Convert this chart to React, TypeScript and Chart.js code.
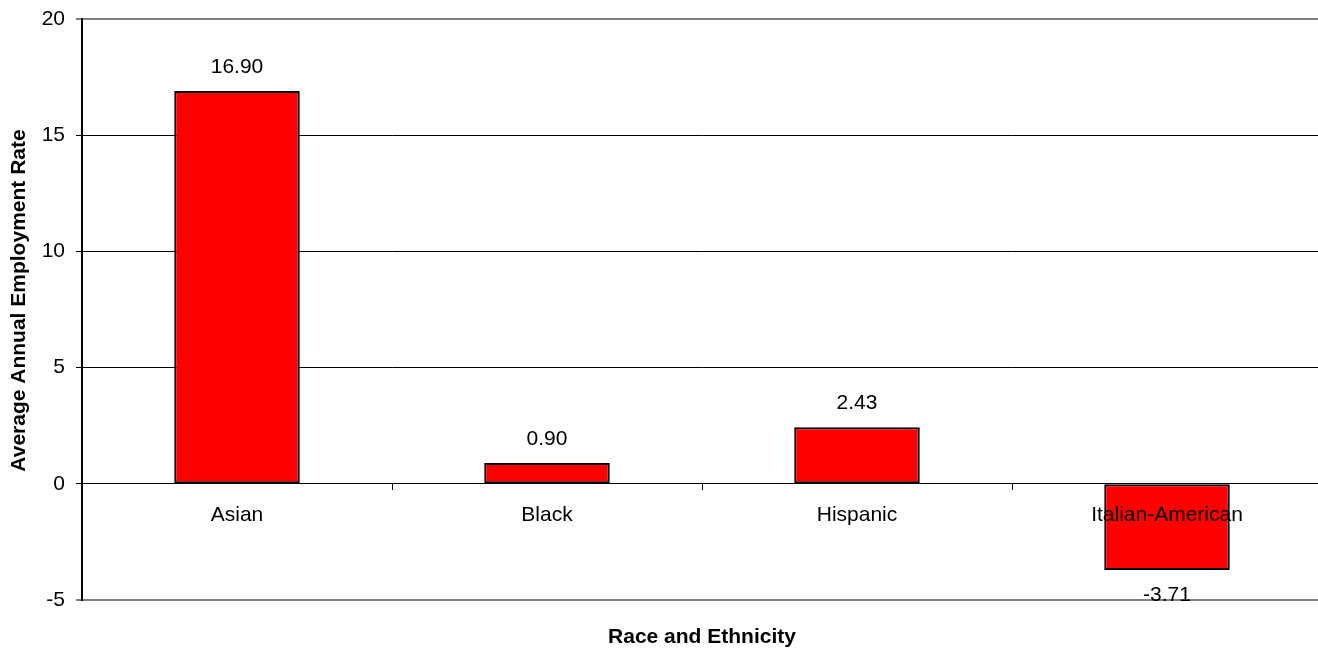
import React, { useEffect, useRef } from "react";
import { Chart, registerables } from "chart.js";

Chart.register(...registerables);

const categories = ["Asian", "Black", "Hispanic", "Italian-American"];
const employmentRates = [16.9, 0.9, 2.43, -3.71];
const yTicks = [-5, 0, 5, 10, 15, 20];
const yAxisTitle = "Average Annual Employment Rate";
const xAxisTitle = "Race and Ethnicity";

const FONT = "'Liberation Sans', Arial, Helvetica, sans-serif";

export default function App() {
  const ref = useRef<HTMLCanvasElement>(null);

  useEffect(() => {
    document.body.style.margin = "0";
    const canvas = ref.current;
    if (!canvas) return;

    const labelPlugin = {
      id: "barValueLabels",
      afterDatasetsDraw(chart: any) {
        const { ctx } = chart;
        const meta = chart.getDatasetMeta(0);
        ctx.save();
        ctx.font = `21px ${FONT}`;
        ctx.fillStyle = "#000";
        ctx.textAlign = "center";
        ctx.textBaseline = "middle";
        meta.data.forEach((bar: any, i: number) => {
          const v = employmentRates[i];
          const y = v >= 0 ? bar.y - 24 : bar.y + 25;
          ctx.fillText(v.toFixed(2), bar.x, y);
        });
        ctx.restore();
      },
      afterDraw(chart: any) {
        const { ctx, chartArea } = chart;
        ctx.save();
        ctx.font = `bold 21px ${FONT}`;
        ctx.fillStyle = "#000";
        ctx.textAlign = "center";
        ctx.textBaseline = "middle";
        ctx.fillText(xAxisTitle, (chartArea.left + chartArea.right) / 2, chartArea.bottom + 37);
        ctx.translate(19, (chartArea.top + chartArea.bottom) / 2 - 9);
        ctx.rotate(-Math.PI / 2);
        ctx.fillText(yAxisTitle, 0, 0);
        ctx.restore();
      },
    };

    const isBorderTick = (v: number) => v === yTicks[0] || v === yTicks[yTicks.length - 1];

    const chart = new Chart(canvas, {
      type: "bar",
      data: {
        labels: categories,
        datasets: [
          {
            data: employmentRates,
            backgroundColor: "#FF0000",
            borderColor: "#000000",
            borderWidth: 2,
            borderSkipped: false,
            barPercentage: 0.405,
            categoryPercentage: 1,
          },
        ],
      },
      options: {
        responsive: false,
        animation: false,
        devicePixelRatio: 1,
        layout: { padding: { left: 0, top: 19, right: 8, bottom: 48 } },
        plugins: {
          legend: { display: false },
          tooltip: { enabled: false },
        },
        scales: {
          x: {
            type: "category",
            position: { y: 0 } as any,
            offset: true,
            afterFit: (s: any) => {
              s.height = 0;
              s.paddingTop = 0;
              s.paddingBottom = 0;
              s.paddingLeft = 0;
              s.paddingRight = 0;
            },
            grid: {
              display: true,
              drawOnChartArea: false,
              drawTicks: true,
              tickLength: 6,
              tickColor: "#000",
              offset: true,
            },
            border: { display: true, color: "#000", width: 1, z: 1 },
            ticks: {
              z: 1,
              autoSkip: false,
              maxRotation: 0,
              color: "#000",
              padding: 13,
              font: { family: FONT, size: 21 },
            },
          },
          y: {
            type: "linear",
            position: "left",
            min: yTicks[0],
            max: yTicks[yTicks.length - 1],
            afterFit: (s: any) => {
              s.width = 82;
              s.paddingTop = 0;
              s.paddingBottom = 0;
            },
            afterBuildTicks: (s: any) => {
              s.ticks = yTicks.map((v) => ({ value: v }));
            },
            grid: {
              color: (c: any) => (c.tick && isBorderTick(c.tick.value) ? "#808080" : "#000"),
              lineWidth: (c: any) => (c.tick && isBorderTick(c.tick.value) ? 2 : 1),
              drawTicks: true,
              tickLength: 6,
              tickColor: "#000",
              tickWidth: 1,
            },
            border: { display: true, color: "#000", width: 2 },
            ticks: {
              color: "#000",
              padding: 11,
              font: { family: FONT, size: 21 },
              callback: (v: any) => String(v),
            },
            title: { display: false },
          },
        },
      },
      plugins: [labelPlugin],
    });

    return () => chart.destroy();
  }, []);

  return (
    <div style={{ width: 1318, height: 648, overflow: "hidden", position: "relative" }}>
      <canvas ref={ref} width={1330} height={648} style={{ display: "block" }} />
    </div>
  );
}
